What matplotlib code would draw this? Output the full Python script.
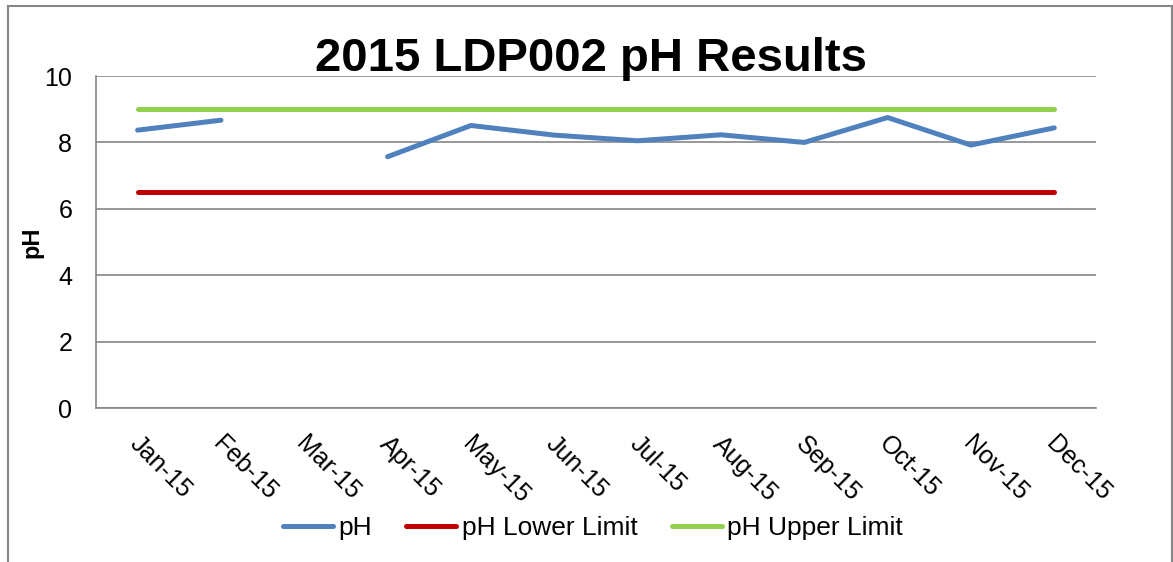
import numpy as np
import matplotlib.pyplot as plt
import matplotlib.transforms as mtransforms
from matplotlib.patches import Rectangle

plt.rcParams['font.family'] = ['Liberation Sans', 'DejaVu Sans']

# Monthly pH results (March missing)
months = ['Jan-15', 'Feb-15', 'Mar-15', 'Apr-15', 'May-15', 'Jun-15',
          'Jul-15', 'Aug-15', 'Sep-15', 'Oct-15', 'Nov-15', 'Dec-15']
ph_values = [8.37, 8.67, np.nan, 7.57, 8.51, 8.22, 8.05, 8.23, 8.0, 8.75, 7.92, 8.44]
lower_limit = [6.5] * 12
upper_limit = [9.0] * 12
y_ticks = [0, 2, 4, 6, 8, 10]

fig = plt.figure(figsize=(11.73, 5.62), dpi=100)
ax = fig.add_axes([0.0818, 0.274, 0.8525, 0.5907])

x = np.arange(len(months))
ax.plot(x, ph_values, color='#4F81BD', lw=3.6, solid_capstyle='round',
        solid_joinstyle='round', label='pH', zorder=3)
ax.plot(x, lower_limit, color='#C00000', lw=3.6, solid_capstyle='round',
        label='pH Lower Limit', zorder=3)
ax.plot(x, upper_limit, color='#92D050', lw=3.6, solid_capstyle='round',
        label='pH Upper Limit', zorder=3)

ax.set_xlim(-0.5, len(months) - 0.5)
ax.set_ylim(0, 10)
ax.set_yticks(y_ticks)
ax.set_xticks(x)
ax.set_xticklabels(months)
ax.grid(axis='y', color='#868686', lw=1.2)
ax.set_axisbelow(True)

for side in ['top', 'right']:
    ax.spines[side].set_visible(False)
for side in ['left', 'bottom']:
    ax.spines[side].set_color('#868686')
    ax.spines[side].set_linewidth(1.2)

ax.tick_params(axis='y', length=0, pad=17, labelsize=18)
ax.tick_params(axis='x', length=0, pad=17, labelsize=18)
shift = mtransforms.ScaledTranslation(4 / 100, 0, fig.dpi_scale_trans)
for lbl in ax.get_xticklabels():
    lbl.set_rotation(-45)
    lbl.set_rotation_mode('anchor')
    lbl.set_ha('left')
    lbl.set_va('top')
    lbl.set_transform(lbl.get_transform() + shift)

ax.set_ylabel('pH', fontsize=17, fontweight='bold')
ax.yaxis.set_label_coords(-0.052, 0.5)

fig.text(0.504, 0.873, '2015 LDP002 pH Results', ha='center', va='baseline',
         fontsize=34, fontweight='bold')

ax.legend(loc='center', bbox_to_anchor=(0.497, -0.361), ncol=3, frameon=False,
          fontsize=19, handlelength=1.9, handletextpad=0.2, columnspacing=1.3)

# outer chart border
fig.patches.append(Rectangle((8 / 1173, -0.1), 1164 / 1173, 1.1 - 6 / 562,
                             transform=fig.transFigure, fill=False,
                             edgecolor='#868686', lw=1.5))

fig.savefig('out.png', dpi=100)
